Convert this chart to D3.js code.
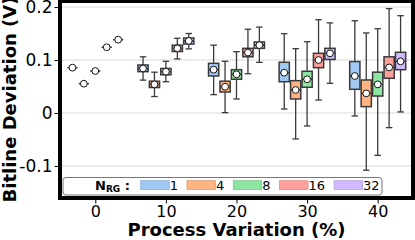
<!DOCTYPE html>
<html>
<head>
<meta charset="utf-8">
<script src="https://cdn.jsdelivr.net/npm/d3@7"></script>
<style>
  html, body { margin: 0; padding: 0; background: #fff; }
  svg { display: block; font-family: "DejaVu Sans", sans-serif; }
</style>
</head>
<body>
<svg id="chart" width="415" height="240"></svg>
<script>
// ---- data ----
const variations = [0, 10, 20, 30, 40];
const nrgLevels = [1, 4, 8, 16, 32];
const yTicks = [-0.1, 0, 0.1, 0.2];
const yTickLabels = ["-0.1", "0", "0.1", "0.2"];
const xTicks = [0, 10, 20, 30, 40];
const colors = ["#a1c9f4", "#ffb482", "#8de5a1", "#ff9f9b", "#d0bbff"];

// rows: process variation, columns: N_RG
const whiskerLo = [
  [0.0855, 0.0553, 0.0792, 0.124, 0.1383],
  [0.062, 0.031, 0.059, 0.102, 0.121],
  [0.0346, 0.0006, 0.0264, 0.074, 0.0955],
  [0.0075, -0.049, -0.0245, 0.0245, 0.056],
  [-0.0057, -0.108, -0.080, -0.0277, 0.002]
];
const boxLo = [
  [0.0855, 0.0553, 0.0792, 0.124, 0.1383],
  [0.078, 0.048, 0.072, 0.116, 0.130],
  [0.0698, 0.0396, 0.0636, 0.106, 0.122],
  [0.059, 0.0264, 0.0485, 0.0855, 0.101],
  [0.0447, 0.012, 0.032, 0.0655, 0.0817]
];
const center = [
  [0.0855, 0.0553, 0.0792, 0.124, 0.1383],
  [0.084, 0.054, 0.078, 0.122, 0.136],
  [0.0817, 0.0496, 0.073, 0.114, 0.128],
  [0.076, 0.0434, 0.0636, 0.100, 0.1126],
  [0.0698, 0.037, 0.054, 0.086, 0.0975]
];
const boxHi = [
  [0.0855, 0.0553, 0.0792, 0.124, 0.1383],
  [0.0906, 0.060, 0.084, 0.128, 0.1415],
  [0.0937, 0.060, 0.0817, 0.122, 0.134],
  [0.0957, 0.061, 0.0787, 0.1126, 0.122],
  [0.097, 0.0623, 0.077, 0.106, 0.1145]
];
const whiskerHi = [
  [0.0855, 0.0553, 0.0792, 0.124, 0.1383],
  [0.106, 0.077, 0.0975, 0.141, 0.150],
  [0.128, 0.0975, 0.1157, 0.158, 0.162],
  [0.1496, 0.1213, 0.1345, 0.176, 0.170],
  [0.174, 0.151, 0.159, 0.197, 0.1836]
];

// ---- layout ----
const L = 60, R = 413, T = 1, B = 198;
const svg = d3.select("#chart");
const x = d3.scaleLinear().domain([-5, 45]).range([L, R]);
const y = d3.scaleLinear().domain([-0.1604, 0.2113]).range([B, T]);
const dodge = d3.scaleBand().domain(nrgLevels).range([-4.05, 4.05]);
const boxW = x(1.45) - x(0);
const capW = 6.5;

// gridlines
svg.append("g").selectAll("line").data(yTicks).join("line")
  .attr("x1", L).attr("x2", R)
  .attr("y1", d => y(d)).attr("y2", d => y(d))
  .attr("stroke", "#e6e6e6").attr("stroke-width", 1.5);

// boxes
const items = [];
variations.forEach((v, i) => {
  nrgLevels.forEach((n, j) => {
    items.push({
      cx: x(v + dodge(n) + dodge.bandwidth() / 2),
      wl: whiskerLo[i][j], q1: boxLo[i][j], c: center[i][j],
      q3: boxHi[i][j], wh: whiskerHi[i][j], color: colors[j]
    });
  });
});

const g = svg.append("g");
const edge = "#3a3a3a";
items.forEach(d => {
  const grp = g.append("g");
  if (d.wh > d.q3) {
    grp.append("line").attr("x1", d.cx).attr("x2", d.cx)
      .attr("y1", y(d.q3)).attr("y2", y(d.wh)).attr("stroke", edge).attr("stroke-width", 1.3);
    grp.append("line").attr("x1", d.cx - capW / 2).attr("x2", d.cx + capW / 2)
      .attr("y1", y(d.wh)).attr("y2", y(d.wh)).attr("stroke", edge).attr("stroke-width", 1.3);
  }
  if (d.wl < d.q1) {
    grp.append("line").attr("x1", d.cx).attr("x2", d.cx)
      .attr("y1", y(d.q1)).attr("y2", y(d.wl)).attr("stroke", edge).attr("stroke-width", 1.3);
    grp.append("line").attr("x1", d.cx - capW / 2).attr("x2", d.cx + capW / 2)
      .attr("y1", y(d.wl)).attr("y2", y(d.wl)).attr("stroke", edge).attr("stroke-width", 1.3);
  }
  if (d.q3 > d.q1) {
    grp.append("rect").attr("x", d.cx - boxW / 2).attr("width", boxW)
      .attr("y", y(d.q3)).attr("height", y(d.q1) - y(d.q3))
      .attr("fill", d.color).attr("stroke", edge).attr("stroke-width", 1.5);
  }
  grp.append("line").attr("x1", d.cx - boxW / 2).attr("x2", d.cx + boxW / 2)
    .attr("y1", y(d.c)).attr("y2", y(d.c)).attr("stroke", edge).attr("stroke-width", 1.5);
  grp.append("circle").attr("cx", d.cx).attr("cy", y(d.c)).attr("r", 3.4)
    .attr("fill", "#fff").attr("stroke", "#111").attr("stroke-width", 1);
});

// frame
svg.append("rect").attr("x", L).attr("y", T).attr("width", R - L).attr("height", B - T)
  .attr("fill", "none").attr("stroke", "#000").attr("stroke-width", 4);

// y axis
const yAxis = svg.append("g").attr("transform", `translate(${L - 2},0)`)
  .call(d3.axisLeft(y).tickValues(yTicks).tickFormat((d, i) => yTickLabels[i]).tickSize(3.5).tickPadding(2));
yAxis.select(".domain").remove();
yAxis.selectAll("text").attr("font-size", 17).attr("fill", "#000").attr("font-family", "DejaVu Sans");
yAxis.selectAll("line").attr("stroke", "#000");

// x axis
const xAxis = svg.append("g").attr("transform", `translate(0,${B + 2})`)
  .call(d3.axisBottom(x).tickValues(xTicks).tickFormat(d3.format("d")).tickSize(3.5).tickPadding(2));
xAxis.select(".domain").remove();
xAxis.selectAll("text").attr("font-size", 16).attr("fill", "#000").attr("font-family", "DejaVu Sans");
xAxis.selectAll("line").attr("stroke", "#000");

// axis titles
svg.append("text").attr("x", (L + R) / 2).attr("y", 236).attr("text-anchor", "middle")
  .attr("font-size", 18).attr("font-weight", "bold").text("Process Variation (%)");
svg.append("text").attr("transform", `translate(16,${(T + B) / 2}) rotate(-90)`)
  .attr("text-anchor", "middle").attr("font-size", 18).attr("font-weight", "bold")
  .text("Bitline Deviation (V)");

// legend
const leg = svg.append("g");
leg.append("rect").attr("x", 63).attr("y", 177.5).attr("width", 319).attr("height", 17.5)
  .attr("rx", 3).attr("fill", "#fff").attr("fill-opacity", 0.9)
  .attr("stroke", "#777").attr("stroke-width", 1);
const title = leg.append("text").attr("x", 95).attr("y", 189.5).attr("font-weight", "bold").attr("font-size", 13);
title.append("tspan").text("N");
title.append("tspan").attr("font-size", 9).attr("dy", 2.5).text("RG");
title.append("tspan").attr("dy", -2.5).text(" :");
let lx = 140.7;
nrgLevels.forEach((n, j) => {
  leg.append("rect").attr("x", lx).attr("y", 180.7).attr("width", 28.5).attr("height", 8.8)
    .attr("fill", colors[j]).attr("stroke", d3.color(colors[j]).darker(0.4)).attr("stroke-width", 0.8);
  const t = leg.append("text").attr("x", lx + 29).attr("y", 189.5).attr("font-size", 13).text(String(n));
  lx = lx + 29 + t.node().getComputedTextLength() + 9;
});
</script>
</body>
</html>
